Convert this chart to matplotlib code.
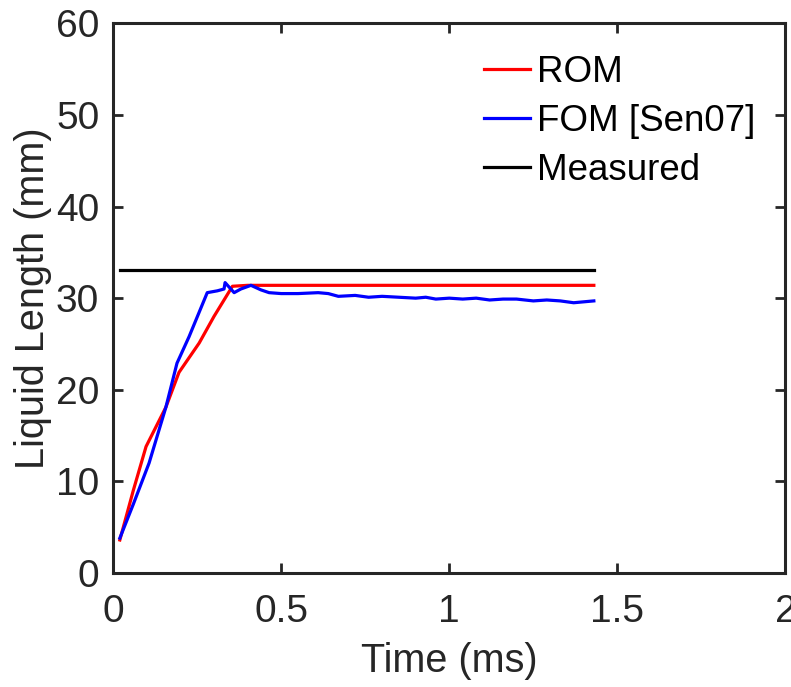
import numpy as np
import matplotlib
matplotlib.use("Agg")
import matplotlib.pyplot as plt

plt.rcParams['font.family'] = ['Liberation Sans', 'DejaVu Sans']

# ROM result
rom_t = [0.02, 0.06, 0.098, 0.157, 0.196, 0.256, 0.30, 0.355, 0.40, 0.6, 0.8, 1.0, 1.2, 1.43]
rom_l = [3.6, 9.0, 13.8, 18.1, 21.9, 25.1, 28.0, 31.3, 31.4, 31.4, 31.4, 31.4, 31.4, 31.4]

# FOM [Sen07]
fom_t = [0.02, 0.06, 0.107, 0.157, 0.19, 0.226, 0.28, 0.31, 0.33, 0.333, 0.36, 0.38, 0.41,
         0.44, 0.464, 0.50, 0.55, 0.61, 0.64, 0.67, 0.72, 0.76, 0.80, 0.85, 0.90, 0.93,
         0.96, 1.0, 1.04, 1.08, 1.12, 1.16, 1.20, 1.25, 1.29, 1.33, 1.37, 1.40, 1.43]
fom_l = [3.8, 7.5, 12.0, 18.1, 22.9, 25.8, 30.6, 30.8, 31.0, 31.7, 30.6, 31.0, 31.4,
         30.9, 30.6, 30.5, 30.5, 30.6, 30.5, 30.2, 30.3, 30.1, 30.2, 30.1, 30.0, 30.1,
         29.9, 30.0, 29.9, 30.0, 29.8, 29.9, 29.9, 29.7, 29.8, 29.7, 29.5, 29.6, 29.7]

# Measured
meas_t = [0.02, 1.43]
meas_l = [33.1, 33.1]

ink = '#262626'
fig = plt.figure(figsize=(7.91, 6.87), dpi=100)
ax = fig.add_axes([0.143, 0.166, 0.850, 0.80])

ax.plot(rom_t, rom_l, color='#ff0000', lw=2.3, label='ROM')
ax.plot(fom_t, fom_l, color='#0000ff', lw=2.3, label='FOM [Sen07]')
ax.plot(meas_t, meas_l, color='#000000', lw=2.3, label='Measured')

ax.set_xlim(0, 2)
ax.set_ylim(0, 60)
ax.set_xticks([0, 0.5, 1, 1.5, 2])
ax.set_xticklabels(['0', '0.5', '1', '1.5', '2'])
ax.set_yticks(np.arange(0, 61, 10))
ax.set_xlabel('Time (ms)', fontsize=28.5, color=ink, labelpad=9)
ax.set_ylabel('Liquid Length (mm)', fontsize=28.5, color=ink, labelpad=3)
ax.tick_params(direction='in', top=True, right=True, length=7, width=2,
               labelsize=28, colors=ink)
ax.tick_params(axis='x', pad=15)
ax.tick_params(axis='y', pad=10)
for s in ax.spines.values():
    s.set_linewidth(2.2)
    s.set_color(ink)

leg = ax.legend(loc='upper right', bbox_to_anchor=(1.005, 1.003), frameon=False,
                fontsize=26.5, handlelength=1.25, handletextpad=0.2, labelspacing=0.38)
for t in leg.get_texts():
    t.set_color('#000000')

fig.savefig('out.png', dpi=100)
